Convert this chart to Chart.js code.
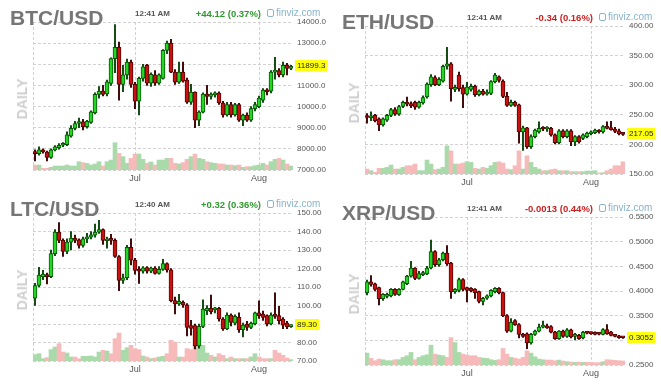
<!DOCTYPE html>
<html>
<head>
<meta charset="utf-8">
<script src="https://cdn.jsdelivr.net/npm/chart.js@4.4.1/dist/chart.umd.min.js"></script>
<style>
body{margin:0;background:#fff;width:661px;height:385px;overflow:hidden;position:relative;font-family:"Liberation Sans",Arial,sans-serif}
.panel{position:absolute;width:330px;height:190px}
.panel canvas{position:absolute;left:0;top:0}
.title{position:absolute;left:10px;top:7px;font-size:21px;line-height:1;font-weight:bold;color:#767676;white-space:nowrap}
.time{position:absolute;left:135px;top:10px;font-size:8px;line-height:1;font-weight:bold;color:#555;white-space:nowrap}
.chg{position:absolute;right:69px;top:9px;font-size:9.5px;line-height:1;font-weight:bold;white-space:nowrap}
.up{color:#2f9a2f}
.down{color:#cc2020}
.fv{position:absolute;left:267px;top:8px;font-size:10px;line-height:1;color:#8ab4cc;white-space:nowrap}
.fv i{display:inline-block;width:5px;height:6px;border:1px solid #8ab4cc;border-radius:2px;margin-right:2px;vertical-align:-1px}
.daily{position:absolute;left:22px;top:99px;transform:translate(-50%,-50%) rotate(-90deg);font-size:14px;line-height:1;font-weight:bold;color:#cfcfcf}
</style>
</head>
<body>
<div class="panel" style="left:0;top:0">
  <canvas id="btcChart" width="330" height="190"></canvas>
  <div class="title">BTC/USD</div><div class="time">12:41 AM</div>
  <div class="chg up">+44.12 (0.37%)</div><div class="fv"><i></i>finviz.com</div><div class="daily">DAILY</div>
</div>
<div class="panel" style="left:332px;top:4px">
  <canvas id="ethChart" width="330" height="190"></canvas>
  <div class="title">ETH/USD</div><div class="time">12:41 AM</div>
  <div class="chg down">-0.34 (0.16%)</div><div class="fv"><i></i>finviz.com</div><div class="daily">DAILY</div>
</div>
<div class="panel" style="left:0;top:191px">
  <canvas id="ltcChart" width="330" height="190"></canvas>
  <div class="title">LTC/USD</div><div class="time">12:40 AM</div>
  <div class="chg up">+0.32 (0.36%)</div><div class="fv"><i></i>finviz.com</div><div class="daily">DAILY</div>
</div>
<div class="panel" style="left:332px;top:195px">
  <canvas id="xrpChart" width="330" height="190"></canvas>
  <div class="title">XRP/USD</div><div class="time">12:41 AM</div>
  <div class="chg down">-0.0013 (0.44%)</div><div class="fv"><i></i>finviz.com</div><div class="daily">DAILY</div>
</div>
<script>
// daily sessions Jun 6 .. Aug 9
const monthNames = ["Jun", "Jul", "Aug"];
const days = [];
for (let i = 0; i < 65; i++) {
    const d = new Date(2019, 5, 6 + i);
    days.push(monthNames[d.getMonth() - 5] + " " + d.getDate());
}
const monthTicks = {"Jul 1": "Jul", "Aug 1": "Aug"};

// [open, high, low, close]
const btcCandles = [
    [7870,7950,7430,7770],[7770,8100,7700,7950],[7950,8000,7800,7850],[7850,7900,7430,7590],[7590,8000,7550,7950],
    [7950,8150,7900,8100],[8060,8250,7980,8170],[8170,8300,8100,8250],[8200,8800,8150,8660],[8600,9100,8550,8970],
    [8970,9300,8900,9200],[9200,9450,9000,9280],[9280,9400,8900,9050],[9050,9350,8980,9300],[9250,9800,9200,9750],
    [9700,10650,9650,10580],[10580,10950,10400,10730],[10730,11000,10500,10580],[10600,11250,10500,11170],[11100,12300,11000,12270],
    [12270,13880,11600,12800],[12800,13050,10300,11050],[11050,11950,10700,11500],[11500,12250,11300,12100],[12100,12200,10900,11050],
    [11050,11150,9900,10250],[10250,11400,9600,11330],[11330,12000,11200,11880],[11950,12000,11000,11110],[11110,11600,10950,11530],
    [11500,11700,11000,11110],[11110,11550,11050,11500],[11330,12700,11300,12660],[12660,13100,12500,13000],[13000,13180,11600,11630],
    [11630,11750,11050,11150],[11150,12100,11100,11630],[11630,12100,11150,11200],[11250,11350,10150,10210],[10210,11050,10100,10680],
    [10680,10700,9000,9360],[9360,9800,9100,9740],[9740,10650,9700,10590],[10590,11000,10100,10480],[10480,10650,10350,10590],
    [10550,10700,10450,10620],[10640,10700,10100,10170],[10170,10250,9500,9600],[9600,10200,9550,10100],[10100,10200,9500,9600],
    [9600,10150,9550,10100],[10100,10150,9300,9360],[9360,9650,9100,9600],[9600,9700,9300,9360],[9360,10000,9300,9900],
    [9900,10200,9800,10100],[10000,10500,9950,10400],[10300,10850,10200,10780],[10780,10850,10550,10700],[10730,11700,10650,11630],
    [11630,12330,11300,11700],[11700,11800,11400,11500],[11500,12100,11400,11950],[11950,12050,11500,11800],[11800,11950,11750,11899.3]
];
const btcVolume = [15,15,5,5,8,12,12,12,15,12,12,25,22,20,15,18,25,12,25,30,82,50,40,20,35,48,48,32,20,24,15,30,30,35,35,20,18,22,32,40,48,35,32,25,22,20,18,18,15,15,13,15,8,10,10,13,15,20,15,25,32,35,30,18,12];

const ethCandles = [
    [247,252,236,245.5],[245,255,240,246.5],[249,251,238,240],[243,245,223,233],[233,245,231,243],
    [241,251,239,249],[249,261,247,259],[259,262,249,251],[251,266,249,264],[264,273,262,271],
    [271,280,265,268],[269,272,262,265],[271,273,259,263],[263,273,261,271],[270,282,268,279],
    [280,304,278,302],[301,318,298,314],[313,316,299,301],[301,313,299,310],[307,334,305,332],
    [332,364,327,336],[336,338,273,294],[293,300,289,296],[317,322,290,294],[296,300,262,285],
    [285,305,283,297],[293,302,290,298],[298,300,281,284],[284,292,282,290],[290,293,283,285],
    [285,292,283,288],[286,308,284,306],[306,320,304,317],[314,316,305,308],[307,309,279,281],
    [281,288,264,266],[266,275,264,271],[271,273,264,266],[267,268,202,221],[221,231,190,228],
    [228,229,193,196],[196,216,193,213],[213,226,211,224],[221,238,219,227],[227,230,223,226],
    [226,230,222,228],[227,229,214,216],[216,218,201,203],[203,225,201,223],[223,225,211,213],
    [213,225,211,223],[223,225,198,204],[204,215,198,213],[213,215,202,204],[210,218,208,216],
    [213,221,211,219],[218,223,216,221],[220,226,218,224],[223,225,219,221],[221,232,219,230],
    [230,238,226,227],[228,239,224,225],[226,229,220,222],[223,226,216,218],[219,220,215,217.05]
];
const ethVolume = [15,10,5,17,17,20,27,15,15,20,25,25,30,10,10,42,30,13,15,20,85,70,30,30,33,37,35,17,15,20,17,25,35,37,33,15,13,25,70,15,55,35,20,15,10,10,13,15,10,10,10,7,7,7,7,9,9,10,3,4,10,15,25,25,37];

const ltcCandles = [
    [103.9,112,100,110.8],[110.8,120.7,110,116.5],[115.5,119,114,117],[116.7,117.5,111.6,115.6],[115.6,130,115,128],
    [128,141,127,139.7],[139.7,144.8,134,135.2],[135.2,136,126.5,129.2],[129.2,136,128,134.3],[134.3,140,130,136.4],
    [136.4,138,134,135.2],[135.5,136,131,132.5],[132.5,137,131.5,136],[136,139,134,137],[137,140,136,138.2],
    [138,144,137,139.7],[139.7,146,139,141.1],[141,141.5,133,135.2],[135,137,131,135.8],[135.8,138.5,133,135.2],
    [135.2,136,126,126.5],[126.5,127,108,113.5],[113.5,117,112,115],[115,132.5,114,131.5],[131.5,136,122,124.5],
    [124.5,125.5,117,119],[119.5,121,112,118.5],[118.5,121,117.5,120.3],[120.5,121,117.5,118.6],[118.6,120.8,117.8,120.2],
    [120.2,121,117,117.4],[117.4,121,117,119.5],[119.5,125,119,122.7],[122.7,123,118,119.3],[119.3,120,102,102.6],
    [102.6,104.5,95.5,100.8],[100.8,106,100,102.2],[101.7,102.5,99,100.3],[100.3,101,83.5,88.2],[89.1,92,84,87.6],
    [89.1,90,76.5,78.2],[78.2,90,77,88.7],[88.7,103,88,98.1],[97.2,100,95,98.5],[98.5,105.7,95.5,96.7],
    [97.6,99,96,98.3],[98.5,99,91.5,92.7],[92.7,93.5,86.5,87.3],[87.3,96,87,94.8],[94.8,95.5,89,90.9],
    [90.5,95,89.5,94.1],[93.6,96,85.5,86.9],[86.9,90.5,83,89.4],[90,91.5,86.5,88.1],[88.1,91,87.5,90.5],
    [90,96.5,89.5,96],[96,102.5,93,94.5],[95.4,97,92,93.6],[94.5,95,89,90],[90,96,89.5,94.8],
    [94.8,106.8,93,94.1],[94.5,99.5,90,91.8],[92.7,93.5,87.5,89.4],[90.5,91.5,87.5,88.4],[88.6,89.6,88.2,89.3]
];
const ltcVolume = [19,22,7,10,34,42,52,27,24,12,12,7,14,14,15,12,27,32,30,22,67,84,32,40,47,37,34,15,12,7,9,12,14,22,62,57,12,12,37,34,44,47,47,24,17,12,22,17,7,12,7,7,7,7,12,22,12,7,7,7,32,24,17,9,4];

const xrpCandles = [
    [0.3967,0.422,0.392,0.4187],[0.4187,0.4313,0.41,0.4133],[0.4147,0.416,0.40,0.4033],[0.4067,0.408,0.372,0.3847],[0.3847,0.395,0.381,0.3933],
    [0.389,0.396,0.386,0.392],[0.39,0.405,0.388,0.4033],[0.4033,0.405,0.391,0.3933],[0.3927,0.405,0.391,0.4033],[0.4033,0.42,0.402,0.4187],
    [0.4147,0.432,0.413,0.43],[0.43,0.46,0.428,0.4467],[0.4467,0.4473,0.423,0.4253],[0.4253,0.44,0.424,0.4353],[0.4333,0.44,0.431,0.4367],
    [0.4347,0.45,0.433,0.4467],[0.4467,0.5033,0.445,0.48],[0.48,0.482,0.45,0.4533],[0.4533,0.466,0.45,0.4633],[0.4633,0.479,0.461,0.4767],
    [0.4767,0.492,0.452,0.4547],[0.4567,0.458,0.385,0.3987],[0.3987,0.405,0.395,0.4033],[0.4013,0.426,0.398,0.4233],[0.4233,0.425,0.40,0.4033],
    [0.4067,0.408,0.378,0.4013],[0.4053,0.407,0.398,0.40],[0.4033,0.405,0.385,0.3967],[0.3987,0.40,0.376,0.3787],[0.3787,0.387,0.372,0.3853],
    [0.3853,0.392,0.383,0.39],[0.39,0.403,0.388,0.4013],[0.3987,0.407,0.396,0.4053],[0.4053,0.407,0.394,0.3967],[0.3967,0.398,0.348,0.35],
    [0.35,0.352,0.316,0.3187],[0.3187,0.344,0.317,0.3367],[0.34,0.342,0.33,0.332],[0.332,0.334,0.305,0.312],[0.312,0.314,0.306,0.308],
    [0.3133,0.315,0.2833,0.2947],[0.2947,0.314,0.292,0.312],[0.312,0.321,0.31,0.3187],[0.3187,0.333,0.317,0.3267],[0.3267,0.339,0.325,0.33],
    [0.328,0.333,0.324,0.3253],[0.328,0.33,0.315,0.3167],[0.3167,0.318,0.302,0.3033],[0.3033,0.32,0.302,0.3187],[0.3187,0.321,0.306,0.308],
    [0.308,0.324,0.306,0.3213],[0.3213,0.323,0.305,0.3067],[0.308,0.314,0.301,0.312],[0.31,0.312,0.302,0.3033],[0.3047,0.318,0.303,0.3167],
    [0.3167,0.318,0.313,0.3147],[0.3157,0.317,0.312,0.3137],[0.3153,0.317,0.311,0.312],[0.3147,0.316,0.311,0.3127],[0.312,0.324,0.311,0.322],
    [0.322,0.332,0.312,0.3133],[0.3167,0.318,0.309,0.31],[0.3113,0.312,0.307,0.308],[0.3087,0.31,0.304,0.3053],[0.3067,0.307,0.304,0.3052]
];
const xrpVolume = [36,20,13,18,16,13,13,16,16,23,28,38,16,23,28,31,60,33,30,28,23,83,68,38,33,30,28,28,23,21,20,16,14,16,50,33,23,21,18,23,43,36,25,18,16,15,15,13,15,12,10,9,8,9,8,8,8,7,7,10,16,15,14,13,12];

const FONT = "'Liberation Sans', Arial, sans-serif";
const GRID = "#d2d2d2";

// yellow last-price tag on the right axis
const priceTag = {
    id: "priceTag",
    afterDraw(chart, args, opts) {
        const {ctx, chartArea, scales} = chart;
        const y = Math.round(scales.y.getPixelForValue(opts.value));
        ctx.save();
        ctx.font = "8px " + FONT;
        const w = ctx.measureText(opts.text).width + 4;
        ctx.fillStyle = "#ffff10";
        ctx.fillRect(chartArea.right + 2, y - 6, w, 11);
        ctx.fillStyle = "#222";
        ctx.textBaseline = "middle";
        ctx.fillText(opts.text, chartArea.right + 4, y);
        ctx.restore();
    }
};

// dashed line on the left edge of the plot
const edgeLine = {
    id: "edgeLine",
    beforeDatasetsDraw(chart) {
        const {ctx, chartArea} = chart;
        const x = Math.floor(chartArea.left) + 0.5;
        ctx.save();
        ctx.strokeStyle = GRID;
        ctx.lineWidth = 1;
        ctx.setLineDash([3, 2]);
        ctx.beginPath();
        ctx.moveTo(x, chartArea.top);
        ctx.lineTo(x, chartArea.bottom);
        ctx.stroke();
        ctx.restore();
    }
};

function renderPanel(id, candles, volume, yMin, yMax, step, fmt, volMax){
    const up = candles.map(c => c[3] >= c[0]);
    const last = candles[candles.length - 1][3];
    const ctx = document.getElementById(id).getContext("2d");

    return new Chart(ctx, {
        type: "bar",
        data: {
            labels: days,
            datasets: [
                {
                    label: "body",
                    data: candles.map(c => [c[0], c[3]]),
                    backgroundColor: up.map(u => u ? "#22d622" : "#cc1010"),
                    borderColor: up.map(u => u ? "#0b540b" : "#560606"),
                    borderWidth: 1,
                    borderSkipped: false,
                    barThickness: 4,
                    minBarLength: 2,
                    grouped: false,
                    order: 1
                },
                {
                    label: "wick",
                    data: candles.map(c => [c[2], c[1]]),
                    backgroundColor: up.map(u => u ? "#0f4a0f" : "#400808"),
                    barThickness: 1.3,
                    grouped: false,
                    order: 2
                },
                {
                    label: "volume",
                    data: volume,
                    yAxisID: "yVol",
                    backgroundColor: up.map(u => u ? "#a9daa9" : "#f7baba"),
                    barPercentage: 1,
                    categoryPercentage: 1,
                    grouped: false,
                    order: 3
                }
            ]
        },
        options: {
            responsive: false,
            animation: false,
            devicePixelRatio: 1,
            layout: {padding: {left: 33, top: 22, right: 0, bottom: 0}},
            plugins: {
                legend: {display: false},
                tooltip: {enabled: false},
                priceTag: {value: last, text: fmt(last)}
            },
            scales: {
                x: {
                    offset: true,
                    grid: {offset: false, color: GRID, drawTicks: false},
                    border: {display: false, dash: [3, 2]},
                    ticks: {
                        autoSkip: false,
                        maxRotation: 0,
                        padding: 3,
                        color: "#555",
                        font: {family: FONT, size: 9},
                        callback: function(v){
                            const t = monthTicks[this.getLabelForValue(v)];
                            return t === undefined ? null : t;
                        }
                    },
                    afterFit: s => { s.height = 20; }
                },
                y: {
                    position: "right",
                    min: yMin,
                    max: yMax,
                    grid: {color: GRID, drawTicks: false},
                    border: {display: false, dash: [3, 2]},
                    ticks: {
                        stepSize: step,
                        padding: 4,
                        color: "#555",
                        font: {family: FONT, size: 8},
                        callback: v => fmt(v)
                    },
                    afterFit: s => { s.width = 37; }
                },
                yVol: {display: false, min: 0, max: volMax}
            }
        },
        plugins: [edgeLine, priceTag]
    });
}

renderPanel("btcChart", btcCandles, btcVolume, 7000, 14000, 1000, v => v.toPrecision(6), 445);
renderPanel("ethChart", ethCandles, ethVolume, 150, 400, 50, v => v.toFixed(2), 447);
renderPanel("ltcChart", ltcCandles, ltcVolume, 70, 150, 10, v => v.toFixed(2), 444);
renderPanel("xrpChart", xrpCandles, xrpVolume, 0.25, 0.55, 0.05, v => v.toFixed(4), 448);
</script>
</body>
</html>
